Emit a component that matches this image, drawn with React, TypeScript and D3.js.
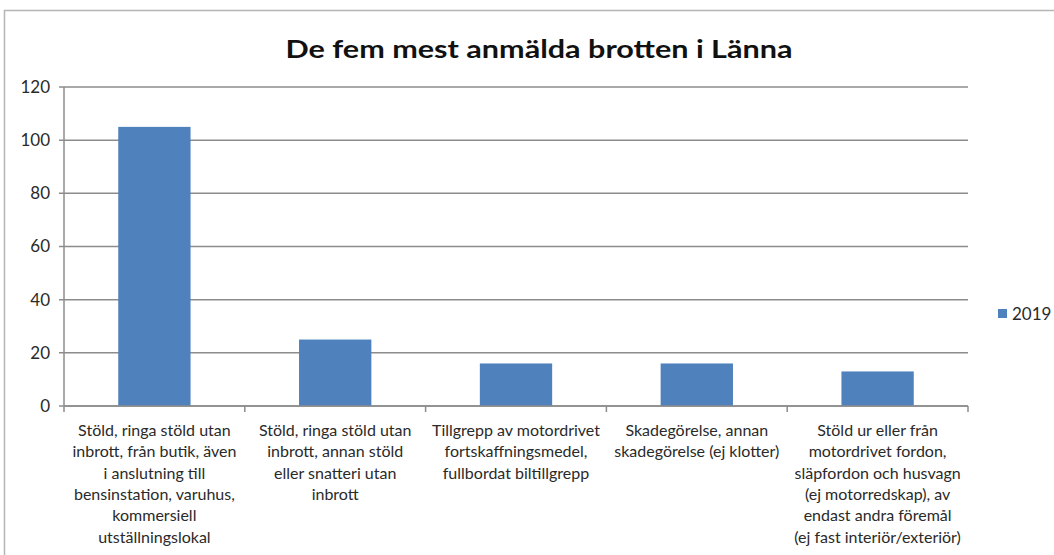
import * as React from "react";
import { scaleBand, scaleLinear } from "d3";

const title = "De fem mest anmälda brotten i Länna";
const seriesName = "2019";
const categories = [
  "Stöld, ringa stöld utan inbrott, från butik, även i anslutning till bensinstation, varuhus, kommersiell utställningslokal",
  "Stöld, ringa stöld utan inbrott, annan stöld eller snatteri utan inbrott",
  "Tillgrepp av motordrivet fortskaffningsmedel, fullbordat biltillgrepp",
  "Skadegörelse, annan skadegörelse (ej klotter)",
  "Stöld ur eller från motordrivet fordon, släpfordon och husvagn (ej motorredskap), av endast andra föremål (ej fast interiör/exteriör)",
];
const categoryLines = [
  ["Stöld, ringa stöld utan", "inbrott, från butik, även", "i anslutning till", "bensinstation, varuhus,", "kommersiell", "utställningslokal"],
  ["Stöld, ringa stöld utan", "inbrott, annan stöld", "eller snatteri utan", "inbrott"],
  ["Tillgrepp av motordrivet", "fortskaffningsmedel,", "fullbordat biltillgrepp"],
  ["Skadegörelse, annan", "skadegörelse (ej klotter)"],
  ["Stöld ur eller från", "motordrivet fordon,", "släpfordon och husvagn", "(ej motorredskap), av", "endast andra föremål", "(ej fast interiör/exteriör)"],
];
const values2019 = [105, 25, 16, 16, 13];
const yTicks = [0, 20, 40, 60, 80, 100, 120];

const App = () => {
  const W = 1054;
  const H = 555;
  const left = 64;
  const right = 968;
  const top = 87;
  const bottom = 406;
  const font = "Lato, 'Open Sans', sans-serif";

  const x = scaleBand<number>()
    .domain(categories.map((_, i) => i))
    .range([left, right])
    .paddingInner(0.6)
    .paddingOuter(0.3);
  const y = scaleLinear().domain([0, 120]).range([bottom, top]);
  const step = (right - left) / categories.length;

  return (
    <svg width={W} height={H} style={{ position: "absolute", left: 0, top: 0, background: "#fff" }}>
      <rect x={4.5} y={10.5} width={W + 10} height={H + 10} fill="#fff" stroke="#b5b5b5" strokeWidth={1.5} />
      <text
        x={539}
        y={58}
        textAnchor="middle"
        fontFamily={font}
        fontWeight="bold"
        fontSize={25}
        textLength={507}
        lengthAdjust="spacingAndGlyphs"
        fill="#111"
      >
        {title}
      </text>

      {yTicks.map((t) => (
        <g key={t}>
          <line x1={left - 5} x2={right} y1={y(t)} y2={y(t)} stroke="#8c8c8c" strokeWidth={1.5} />
          <text x={50} y={y(t)} dy="0.35em" textAnchor="end" fontFamily={font} fontSize={17} fill="#2a2a2a">
            {t}
          </text>
        </g>
      ))}
      <line x1={left} x2={left} y1={top} y2={bottom} stroke="#8c8c8c" strokeWidth={1.5} />

      {values2019.map((v, i) => (
        <rect
          key={i}
          x={x(i)}
          y={y(v)}
          width={x.bandwidth()}
          height={y(0) - y(v)}
          fill="#4f81bd"
        />
      ))}

      {categories.map((_, i) => (
        <line
          key={"tk" + i}
          x1={left + step * i}
          x2={left + step * i}
          y1={bottom}
          y2={bottom + 6}
          stroke="#8c8c8c"
          strokeWidth={1.5}
        />
      ))}
      <line x1={right} x2={right} y1={bottom} y2={bottom + 6} stroke="#8c8c8c" strokeWidth={1.5} />
      <line x1={left} x2={right} y1={bottom} y2={bottom} stroke="#8c8c8c" strokeWidth={1.5} />

      {categoryLines.map((lines, i) => (
        <text
          key={"lb" + i}
          textAnchor="middle"
          fontFamily={font}
          fontSize={16}
          fill="#2a2a2a"
        >
          {lines.map((ln, j) => (
            <tspan key={j} x={(x(i) ?? 0) + x.bandwidth() / 2} y={436 + j * 21.3}>
              {ln}
            </tspan>
          ))}
        </text>
      ))}

      <rect x={998} y={309} width={9} height={9} fill="#4f81bd" />
      <text x={1012} y={320} fontFamily={font} fontSize={17} fill="#2a2a2a">
        {seriesName}
      </text>
    </svg>
  );
};

export default App;
